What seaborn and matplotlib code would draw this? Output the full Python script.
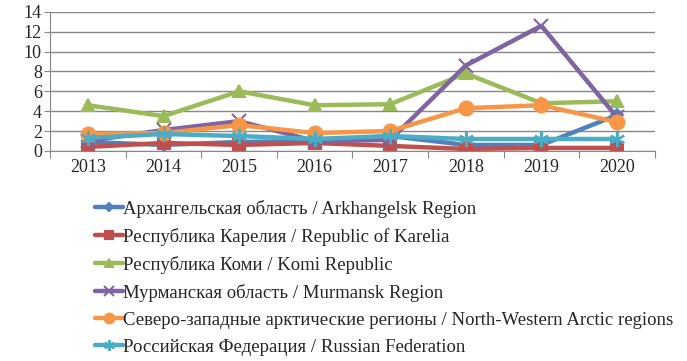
import pandas as pd
import matplotlib
matplotlib.use("Agg")
import matplotlib.pyplot as plt
import seaborn as sns

years = ["2013", "2014", "2015", "2016", "2017", "2018", "2019", "2020"]

arkhangelsk = [0.9, 0.6, 0.9, 1.0, 1.5, 0.6, 0.6, 3.6]
karelia = [0.4, 0.8, 0.6, 0.8, 0.5, 0.2, 0.3, 0.3]
komi = [4.6, 3.5, 6.0, 4.6, 4.7, 7.8, 4.8, 5.0]
murmansk = [1.0, 2.1, 3.0, 1.0, 1.1, 8.6, 12.6, 3.4]
nw_arctic = [1.7, 1.8, 2.6, 1.8, 2.0, 4.3, 4.6, 2.9]
russia = [1.3, 1.7, 1.5, 1.2, 1.5, 1.2, 1.2, 1.2]

labels = [
    "Архангельская область / Arkhangelsk Region",
    "Республика Карелия / Republic of Karelia",
    "Республика Коми / Komi Republic",
    "Мурманская область / Murmansk Region",
    "Северо-западные арктические регионы / North-Western Arctic regions",
    "Российская Федерация / Russian Federation",
]

sns.set_style("white")
plt.rcParams['font.family'] = ['Liberation Serif', 'DejaVu Serif']

series = [arkhangelsk, karelia, komi, murmansk, nw_arctic, russia]
colors = ["#4F81BD", "#C0504D", "#9BBB59", "#8064A2", "#F79646", "#4BACC6"]
markers = ["D", "s", "^", "x", "o", (6, 2, 0)]
msizes = [6, 9, 9, 10, 10, 11]

fig = plt.figure(figsize=(6.87, 3.61), dpi=100)
ax = fig.add_axes([0.073, 0.582, 0.88, 0.385])

x = list(range(len(years)))
for vals, lab, c, m, ms in zip(series, labels, colors, markers, msizes):
    df = pd.DataFrame({"x": x, "y": vals})
    sns.lineplot(data=df, x="x", y="y", ax=ax, color=c, marker=m, markersize=ms,
                 linewidth=3.2, markeredgecolor=c, markeredgewidth=1.5, label=lab)

ax.set_xlim(-0.5, 7.5)
ax.set_ylim(0, 14)
ax.set_yticks(range(0, 15, 2))
ax.set_xticks([i + 0.5 for i in range(-1, 8)], minor=False)
ax.set_xticklabels([])
ax.set_xticks(x, minor=True)
ax.set_xticklabels(years, minor=True, fontsize=13)
ax.tick_params(axis="x", which="major", length=5, color="#888888", direction="out", bottom=True)
ax.tick_params(axis="x", which="minor", length=0, pad=6)
ax.tick_params(axis="y", labelsize=13, length=4, color="#888888", left=True, pad=2)
ax.yaxis.grid(True, color="#888888", linewidth=1)
ax.set_axisbelow(True)
ax.set_xlabel("")
ax.set_ylabel("")
for s in ["top", "right"]:
    ax.spines[s].set_visible(False)
for s in ["left", "bottom"]:
    ax.spines[s].set_color("#888888")

ax.legend(loc="upper left", bbox_to_anchor=(95 / 687, 1 - 200 / 361),
          bbox_transform=fig.transFigure, frameon=False, fontsize=13.5,
          handlelength=1.5, handletextpad=0.0, labelspacing=0.53, borderpad=0,
          borderaxespad=0, markerscale=0.7)

fig.savefig("out.png", dpi=100)
